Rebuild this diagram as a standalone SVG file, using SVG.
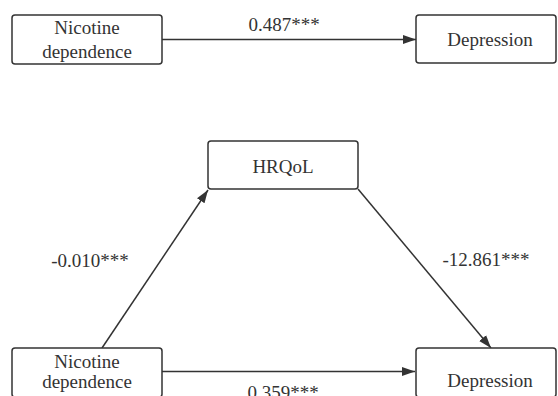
<svg xmlns="http://www.w3.org/2000/svg" width="558" height="396" viewBox="0 0 558 396">
<style>
.box{fill:#fff;stroke:#333;stroke-width:1.5}
.t{font-family:"Liberation Serif","Times New Roman",serif;font-size:19px;fill:#333;text-anchor:middle}
.c{stroke:#333;stroke-width:1.5;fill:none;marker-end:url(#ah)}
</style>
<defs>
<marker id="ah" markerWidth="14" markerHeight="10" refX="13" refY="5" orient="auto" markerUnits="userSpaceOnUse">
<path d="M0,0.5 L13,5 L0,9.5 Z" fill="#333"/>
</marker>
</defs>
<rect width="558" height="396" fill="#fff"/>
<g id="connectors">
<line class="c" x1="162" y1="39.5" x2="416" y2="39.5"/>
<line class="c" x1="162" y1="371.5" x2="415" y2="371.5"/>
<line class="c" x1="102" y1="348" x2="208" y2="190"/>
<line class="c" x1="358" y1="189" x2="491" y2="348"/>
<text class="t" x="284" y="31">0.487***</text>
<text class="t" x="90" y="267">-0.010***</text>
<text class="t" x="486" y="266">-12.861***</text>
<text class="t" x="283" y="399">0.359***</text>
</g>
<g id="nicotine1">
<rect class="box" x="12" y="15" width="150" height="49" rx="3"/>
<text class="t" x="87" y="34">Nicotine</text>
<text class="t" x="87" y="58">dependence</text>
</g>
<g id="depression1">
<rect class="box" x="416" y="15" width="140" height="48" rx="3"/>
<text class="t" x="490" y="46">Depression</text>
</g>
<g id="hrqol">
<rect class="box" x="208" y="141" width="150" height="48" rx="3"/>
<text class="t" x="283" y="173">HRQoL</text>
</g>
<g id="nicotine2">
<rect class="box" x="12" y="348" width="150" height="49" rx="3"/>
<text class="t" x="87" y="368">Nicotine</text>
<text class="t" x="87" y="388">dependence</text>
</g>
<g id="depression2">
<rect class="box" x="416" y="348" width="140" height="49" rx="3"/>
<text class="t" x="490" y="387">Depression</text>
</g>
</svg>
